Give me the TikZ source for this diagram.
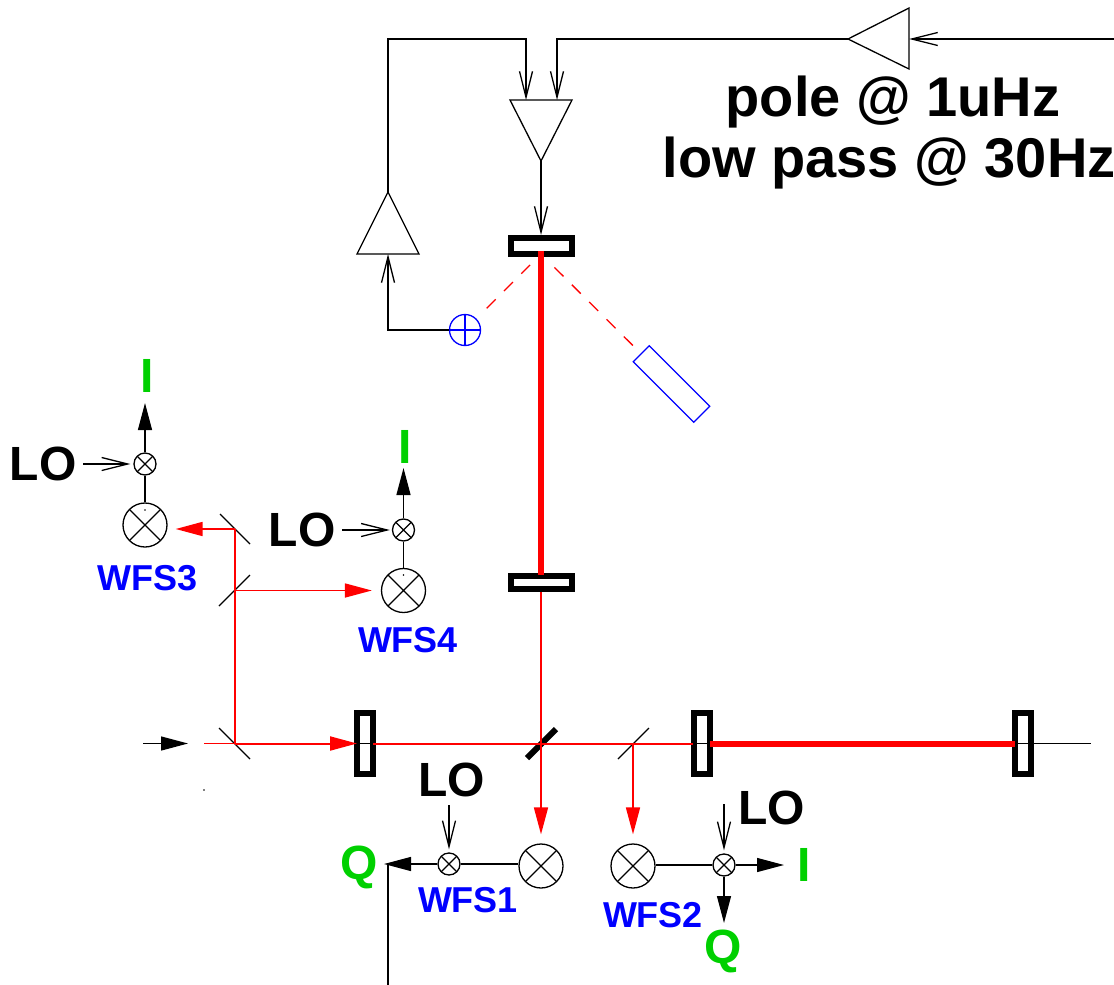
\documentclass[tikz,border=0pt]{standalone}
\usepackage{fontspec}
\setmainfont{Liberation Sans}
\usetikzlibrary{arrows.meta}
\definecolor{sigred}{RGB}{255,0,0}
\definecolor{siggreen}{RGB}{0,208,0}
\definecolor{wfsblue}{RGB}{0,0,255}
\begin{document}
\begin{tikzpicture}[x=1pt, y=-1pt, line width=1.3pt, >={Straight Barb[length=26pt,width=13pt]},
    fullhead/.style={-{Triangle[length=27pt,width=14pt]}},
    thinbeam/.style={sigred, line width=1.7pt},
    mainbeam/.style={sigred, line width=2pt},
    beam/.style={thinbeam, fullhead},
    thickbeam/.style={sigred, line width=6pt},
    mirrorflat/.style={draw, line width=6pt, inner sep=0pt, minimum width=61pt, minimum height=16pt},
    mirrorup/.style={draw, line width=6pt, inner sep=0pt, minimum width=16pt, minimum height=61pt},
    xcircle/.style={draw, circle, inner sep=0pt, path picture={
      \draw (path picture bounding box.north west) -- (path picture bounding box.south east)
            (path picture bounding box.north east) -- (path picture bounding box.south west);}},
    detector/.style={xcircle, minimum size=44pt},
    mixer/.style={xcircle, minimum size=22pt},
    bigtext/.style={inner sep=0pt, anchor=base, font=\fontsize{48}{48}\selectfont\bfseries},
    wfstext/.style={inner sep=0pt, anchor=base, text=wfsblue, font=\fontsize{36}{36}\selectfont\bfseries},
    poletext/.style={inner sep=0pt, anchor=base, font=\fontsize{56}{56}\selectfont\bfseries}]
  \useasboundingbox (0,0) rectangle (1114,985);

  \coordinate (ampA) at (848,39);
  \coordinate (ampB) at (909,8);
  \coordinate (ampC) at (909,69);
  \draw (ampA) -- (ampB) -- (ampC) -- cycle;
  \coordinate (sumA) at (510,100);
  \coordinate (sumB) at (572,100);
  \coordinate (sumC) at (541,161);
  \draw (sumA) -- (sumB) -- (sumC) -- cycle;
  \coordinate (pdA) at (388,192);
  \coordinate (pdB) at (357,254);
  \coordinate (pdC) at (419,254);
  \draw (pdA) -- (pdB) -- (pdC) -- cycle;

  \node[mirrorflat] (mirTop) at (541,246) {};
  \node[mirrorflat, minimum height=13pt] (mirLow) at (541,582.5) {};
  \node[mirrorup] (mirLeft) at (365,743.5) {};
  \node[mirrorup] (mirMid) at (701.5,743.5) {};
  \node[mirrorup] (mirEnd) at (1022.5,743.5) {};

  \coordinate (inAmp) at (1114,39);
  \coordinate (ampIn) at (909,39);
  \coordinate (cornerR) at (557,39);
  \coordinate (sumInR) at (557,100);
  \coordinate (cornerL) at (388,39);
  \coordinate (cornerM) at (526,39);
  \coordinate (sumInL) at (526,100);
  \coordinate (pdIn) at (388,254);
  \coordinate (cornerS) at (388,330);
  \draw[->] (inAmp) -- (ampIn);
  \draw[->] (ampA) -- (cornerR) -- (sumInR);
  \draw[->] (pdA) -- (cornerL) -- (cornerM) -- (sumInL);
  \draw[->] (sumC) -- (mirTop.north);

  \node[draw=wfsblue, circle, minimum size=31pt, inner sep=0pt, path picture={
      \draw[wfsblue] (path picture bounding box.north) -- (path picture bounding box.south)
            (path picture bounding box.west) -- (path picture bounding box.east);}] (quad) at (465,330) {};
  \node[draw=wfsblue, inner sep=0pt, minimum width=85.6pt, minimum height=22.6pt, rotate=-45] (dump) at (671.5,384) {};
  \draw[->] (quad) -- (cornerS) -- (pdIn);
  \coordinate (spot) at (541,254);
  \draw[sigred, dash pattern=on 12.7pt off 11.8pt, shorten <=14.5pt, shorten >=15.5pt] (quad) -- (spot);
  \draw[sigred, dash pattern=on 12.7pt off 11.8pt, shorten <=19pt, shorten >=11pt] (spot) -- (dump);

  \coordinate (armTop) at (541,251);
  \coordinate (armLow) at (541,575);
  \draw[thickbeam] (armTop) -- (armLow);

  \coordinate (inStart) at (143,743.5);
  \coordinate (inTip) at (188,743.5);
  \draw[fullhead] (inStart) -- (inTip);
  \fill (204,790) circle (0.8pt);

  \coordinate (bsIn) at (235,743.5);
  \coordinate (bsThree) at (235,529);
  \coordinate (bsFour) at (235,590.5);
  \coordinate (bsMain) at (541,743.5);
  \coordinate (bsTwo) at (633,743.5);
  \draw (219,728) -- (250,759);
  \draw (220,514) -- (250,544);
  \draw (219,606) -- (250,575);
  \draw (618,759) -- (649,728);
  \draw[line width=6pt] (527,758) -- (556,729);

  \draw (mirLeft.west) -- (mirLeft.east);
  \draw (mirMid.west) -- (mirMid.east);
  \draw (mirEnd.west) -- (1091,743.5);

  \node[detector] (detOne) at (541,866) {};
  \node[detector] (detTwo) at (633,866) {};
  \node[detector] (detThree) at (145,525) {};
  \node[detector] (detFour) at (403.5,590.5) {};
  \node[mixer] (mixOne) at (449,864) {};
  \node[mixer] (mixTwo) at (724,865) {};
  \node[mixer] (mixThree) at (145,464) {};
  \node[mixer] (mixFour) at (403.5,530) {};
  \fill (145,510) circle (0.8pt);
  \fill (403.5,575) circle (0.8pt);

  \draw[thinbeam] (204,743.5) -- (bsIn);
  \draw[mainbeam, fullhead] (bsIn) -- ([xshift=3pt]mirLeft.west);
  \draw[mainbeam] ([xshift=-3pt]mirLeft.east) -- ([xshift=2pt]mirMid.west);
  \draw[thickbeam] ([xshift=-3pt]mirMid.east) -- ([xshift=3pt]mirEnd.west);
  \draw[thinbeam] (mirLow.south) -- (bsMain);
  \draw[thinbeam] (bsIn) -- (bsThree);
  \draw[beam, shorten >=9pt] (bsMain) -- (detOne);
  \draw[beam, shorten >=9pt] (bsTwo) -- (detTwo);
  \draw[beam, shorten >=8pt] (bsThree) -- (bsThree -| detThree.east);
  \draw[beam, shorten >=9pt] (bsFour) -- (detFour);

  \draw (mixOne) -- (mixOne -| detOne.west);
  \draw (mixTwo) -- (mixTwo -| detTwo.east);
  \draw (detThree) -- (mixThree);
  \draw (detFour) -- (mixFour);

  \node[bigtext] (loThree) at (43,480) {LO};
  \node[bigtext] (loFour) at (302,546) {LO};
  \node[bigtext] (loOne) at (451.5,796) {LO};
  \node[bigtext] (loTwo) at (771.5,824) {LO};
  \coordinate (loThreeEnd) at (83,464);
  \coordinate (loFourEnd) at (342,530);
  \coordinate (loOneEnd) at (449,805);
  \coordinate (loTwoEnd) at (724,804);
  \draw[->, shorten >=3pt] (loThreeEnd) -- (mixThree);
  \draw[->, shorten >=2pt] (loFourEnd) -- (mixFour);
  \draw[->, shorten >=3pt] (loOneEnd) -- (mixOne);
  \draw[->, shorten >=3pt] (loTwoEnd) -- (mixTwo);

  \node[bigtext, text=siggreen] (iThree) at (147,392) {I};
  \node[bigtext, text=siggreen] (iFour) at (405,463) {I};
  \node[bigtext, text=siggreen] (iTwo) at (804,881) {I};
  \node[bigtext, text=siggreen] (qOne) at (359,879) {Q};
  \node[bigtext, text=siggreen] (qTwo) at (723,963) {Q};
  \coordinate (iThreeTip) at (145,403);
  \coordinate (iFourTip) at (403.5,468);
  \coordinate (iTwoTip) at (784,865);
  \coordinate (qOneTip) at (384,864);
  \coordinate (qTwoTip) at (724,923);
  \coordinate (lockEnd) at (388,985);
  \coordinate (lockTop) at (388,864);
  \draw[fullhead] (mixThree) -- (iThreeTip);
  \draw[fullhead] (mixFour) -- (iFourTip);
  \draw[fullhead] (mixTwo) -- (iTwoTip);
  \draw[fullhead] (mixTwo) -- (qTwoTip);
  \draw[fullhead] (mixOne) -- (qOneTip);
  \draw (lockEnd) -- (lockTop);

  \node[wfstext] (wfsThree) at (148,590) {WFS3};
  \node[wfstext] (wfsFour) at (408,652) {WFS4};
  \node[wfstext] (wfsOne) at (468,912) {WFS1};
  \node[wfstext] (wfsTwo) at (653,927) {WFS2};

  \node[poletext] (poleText) at (893,116) {pole @ 1uHz};
  \node[poletext] (lowText) at (889,177) {low pass @ 30Hz};
\end{tikzpicture}
\end{document}
